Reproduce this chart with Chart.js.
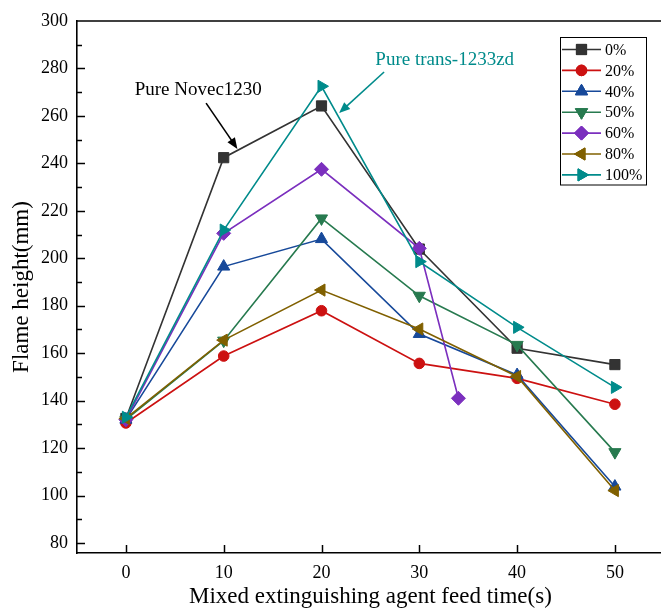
<!DOCTYPE html>
<html>
<head>
<meta charset="utf-8">
<script src="https://cdn.jsdelivr.net/npm/chart.js@4.4.0/dist/chart.umd.min.js"></script>
<style>
html,body{margin:0;padding:0;background:#fff;overflow:hidden;}
#wrap{width:672px;height:608px;position:relative;}
</style>
</head>
<body>
<div id="wrap"><canvas id="c" width="672" height="608"></canvas></div>
<script>
// ---- data ----
const feedTimes = [0, 10, 20, 30, 40, 50];
const feedTimes60 = [0, 10, 20, 30, 34];
const seriesLabels = ['0%', '20%', '40%', '50%', '60%', '80%', '100%'];
const h0   = [132.5, 242.4, 264.2, 203.9, 162.1, 155.2];
const h20  = [130.6, 158.8, 177.9, 155.7, 149.4, 138.5];
const h40  = [132.0, 196.5, 208.1, 168.1, 150.8, 103.8];
const h50  = [132.0, 165.3, 216.8, 184.2, 163.5, 118.3];
const h60  = [132.0, 210.5, 237.5, 204.2, 141.0];
const h80  = [132.5, 165.5, 186.6, 170.2, 150.2, 102.1];
const h100 = [133.0, 211.9, 272.5, 198.6, 170.9, 145.6];
const yTickValues = [80, 100, 120, 140, 160, 180, 200, 220, 240, 260, 280, 300];
const xTickValues = [0, 10, 20, 30, 40, 50];
const annotations = [
  {text: 'Pure Novec1230', color: '#000000', tx: 7.4, ty: 270.9, ax0: 8.2, ay0: 265.4, ax1: 11.4, ay1: 246.1},
  {text: 'Pure trans-1233zd', color: '#008b8b', tx: 32.6, ty: 283.6, ax0: 26.4, ay0: 278.5, ax1: 21.8, ay1: 261.2}
];

const FONT = '"Liberation Serif", "Times New Roman", serif';

const styles = [
  {color: '#333333', pointStyle: 'rect', rotation: 0, radius: 7.2},
  {color: '#cc1111', pointStyle: 'circle', rotation: 0, radius: 5.3},
  {color: '#17499a', pointStyle: 'triangle', rotation: 0, radius: 7},
  {color: '#277a4f', pointStyle: 'triangle', rotation: 180, radius: 7},
  {color: '#7b2fbe', pointStyle: 'rectRot', rotation: 0, radius: 7},
  {color: '#806000', pointStyle: 'triangle', rotation: 270, radius: 7},
  {color: '#008b8b', pointStyle: 'triangle', rotation: 90, radius: 7}
];
const xsList = [feedTimes, feedTimes, feedTimes, feedTimes, feedTimes60, feedTimes, feedTimes];
const ysList = [h0, h20, h40, h50, h60, h80, h100];

const datasets = ysList.map((ys, i) => ({
  label: seriesLabels[i],
  data: ys.map((v, k) => ({x: xsList[i][k], y: v})),
  borderColor: styles[i].color,
  backgroundColor: styles[i].color,
  pointBackgroundColor: styles[i].color,
  pointBorderColor: styles[i].color,
  pointStyle: styles[i].pointStyle,
  pointRotation: styles[i].rotation,
  pointRadius: styles[i].radius,
  pointBorderWidth: 1,
  borderWidth: 1.6,
  tension: 0,
  fill: false,
  order: 10 - i
}));

const decor = {
  id: 'decor',
  afterDraw(chart) {
    const ctx = chart.ctx;
    const xs = chart.scales.x, ys = chart.scales.y;
    const area = chart.chartArea;
    ctx.save();
    ctx.strokeStyle = '#000';
    ctx.lineWidth = 1.5;
    // top border
    ctx.beginPath();
    ctx.moveTo(area.left, area.top);
    ctx.lineTo(area.right, area.top);
    ctx.stroke();
    // y ticks (major + minor) inward
    for (let v = 80; v < 300; v += 10) {
      const py = Math.round(ys.getPixelForValue(v)) + 0.5;
      const len = (v % 20 === 0) ? 8 : 5;
      ctx.beginPath();
      ctx.moveTo(area.left, py);
      ctx.lineTo(area.left + len, py);
      ctx.stroke();
    }
    // x ticks inward
    xTickValues.forEach(v => {
      const px = Math.round(xs.getPixelForValue(v)) + 0.5;
      ctx.beginPath();
      ctx.moveTo(px, area.bottom);
      ctx.lineTo(px, area.bottom - 8);
      ctx.stroke();
    });
    // annotations
    annotations.forEach(a => {
      ctx.fillStyle = a.color;
      ctx.strokeStyle = a.color;
      ctx.font = '19px ' + FONT;
      ctx.textAlign = 'center';
      ctx.textBaseline = 'middle';
      ctx.fillText(a.text, xs.getPixelForValue(a.tx), ys.getPixelForValue(a.ty));
      const x0 = xs.getPixelForValue(a.ax0), y0 = ys.getPixelForValue(a.ay0);
      const x1 = xs.getPixelForValue(a.ax1), y1 = ys.getPixelForValue(a.ay1);
      const ang = Math.atan2(y1 - y0, x1 - x0);
      const hl = 11, hw = 4.5;
      ctx.lineWidth = 1.6;
      ctx.beginPath();
      ctx.moveTo(x0, y0);
      ctx.lineTo(x1 - Math.cos(ang) * hl * 0.8, y1 - Math.sin(ang) * hl * 0.8);
      ctx.stroke();
      ctx.beginPath();
      ctx.moveTo(x1, y1);
      ctx.lineTo(x1 - Math.cos(ang) * hl - Math.sin(ang) * hw, y1 - Math.sin(ang) * hl + Math.cos(ang) * hw);
      ctx.lineTo(x1 - Math.cos(ang) * hl + Math.sin(ang) * hw, y1 - Math.sin(ang) * hl - Math.cos(ang) * hw);
      ctx.closePath();
      ctx.fill();
    });
    // legend box
    const bx = 560.5, by = 37.5, bw = 86, bh = 147.5;
    ctx.fillStyle = '#fff';
    ctx.fillRect(bx, by, bw, bh);
    ctx.strokeStyle = '#000';
    ctx.lineWidth = 1;
    ctx.strokeRect(bx, by, bw, bh);
    const rowH = 20.9;
    chart.data.datasets.forEach((ds, i) => {
      const cy = 49.5 + i * rowH;
      const st = styles[i];
      ctx.strokeStyle = st.color;
      ctx.fillStyle = st.color;
      ctx.lineWidth = 1.6;
      ctx.beginPath();
      ctx.moveTo(562, cy);
      ctx.lineTo(601, cy);
      ctx.stroke();
      ctx.lineWidth = 1;
      Chart.helpers.drawPoint(ctx, {pointStyle: st.pointStyle, rotation: st.rotation, radius: st.radius, borderWidth: 1}, 581.5, cy);
      ctx.fill();
      ctx.stroke();
      ctx.fillStyle = '#000';
      ctx.font = '16px ' + FONT;
      ctx.textAlign = 'left';
      ctx.textBaseline = 'middle';
      ctx.fillText(ds.label, 605, cy + 1);
    });
    ctx.restore();
  }
};

new Chart(document.getElementById('c'), {
  type: 'line',
  data: {datasets},
  options: {
    responsive: false,
    animation: false,
    events: [],
    layout: {padding: {top: 21, right: 0, left: 0, bottom: 0}},
    plugins: {legend: {display: false}, tooltip: {enabled: false}},
    scales: {
      x: {
        type: 'linear',
        min: -5, max: 55,
        afterFit(s) { s.height = 55; },
        afterBuildTicks(s) { s.ticks = xTickValues.map(v => ({value: v})); },
        grid: {display: true, drawOnChartArea: false, drawTicks: false},
        border: {display: true, color: '#000', width: 1.6},
        ticks: {color: '#000', font: {family: FONT, size: 18}, padding: 9, maxRotation: 0},
        title: {display: true, text: 'Mixed extinguishing agent feed time(s)', color: '#000',
                font: {family: FONT, size: 23, lineHeight: 1}, padding: {top: 0, bottom: 0}}
      },
      y: {
        type: 'linear',
        min: 75.8, max: 300,
        afterFit(s) { s.width = 77; },
        afterBuildTicks(s) { s.ticks = yTickValues.map(v => ({value: v})); },
        grid: {display: true, drawOnChartArea: false, drawTicks: false},
        border: {display: true, color: '#000', width: 1.6},
        ticks: {color: '#000', font: {family: FONT, size: 18}, padding: 9},
        title: {display: true, text: 'Flame height(mm)', color: '#000',
                font: {family: FONT, size: 23, lineHeight: 1}, padding: {top: 10, bottom: 0}}
      }
    }
  },
  plugins: [decor]
});
</script>
</body>
</html>
